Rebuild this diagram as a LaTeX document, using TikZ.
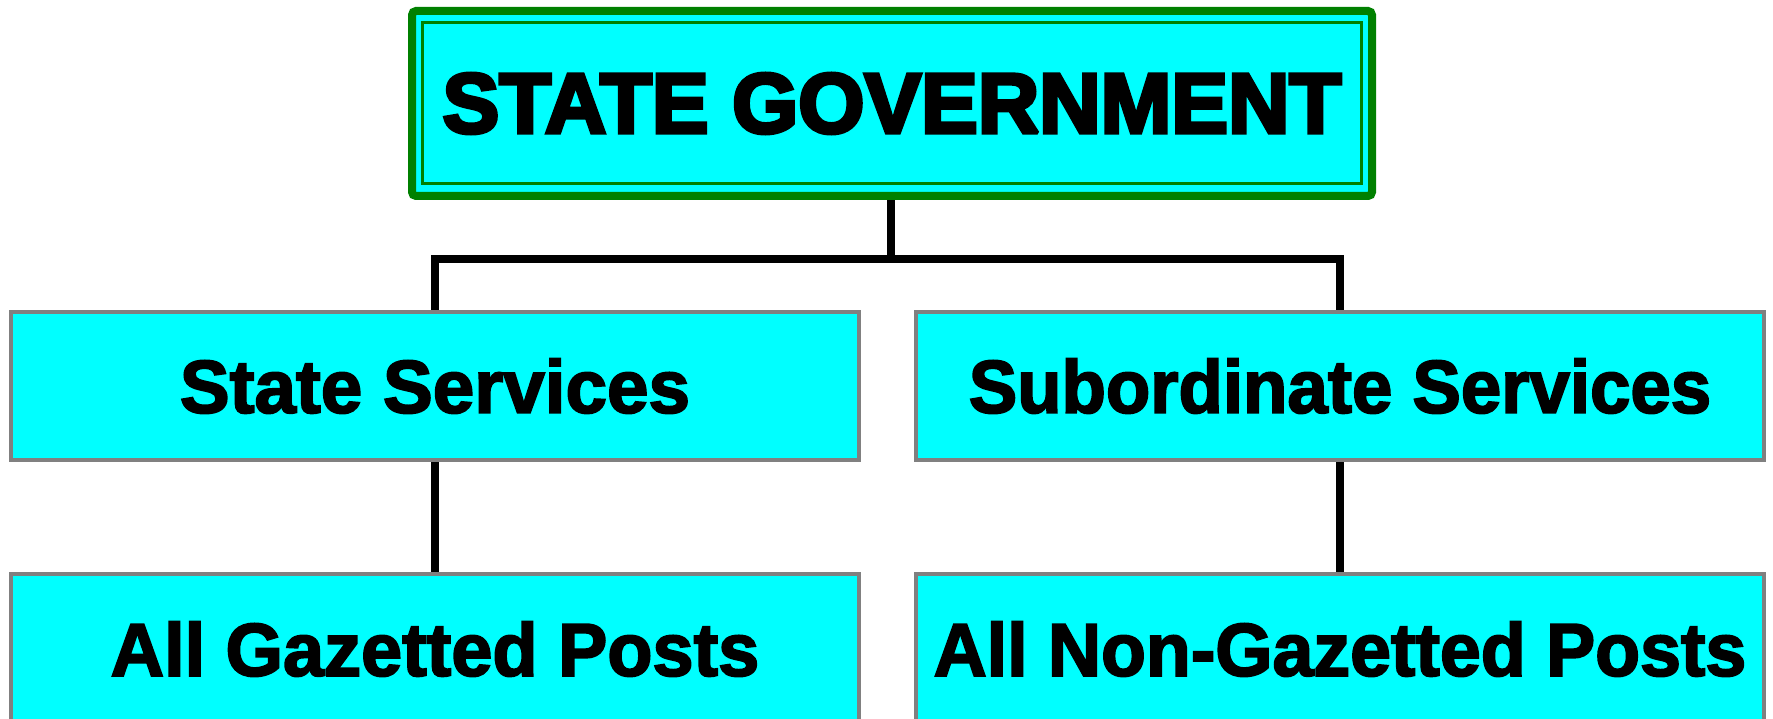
\documentclass[tikz,border=0pt]{standalone}
\usepackage{fontspec}
\usepackage{graphicx}
\setmainfont{Liberation Sans}
\newfontfamily\boxfont[FakeBold=2.5]{Liberation Sans Bold}
\newfontfamily\headfont[FakeBold=4.5]{Liberation Sans Bold}
\usetikzlibrary{backgrounds,calc}
\definecolor{boxcyan}{HTML}{00FFFF}
\definecolor{boxgreen}{HTML}{008000}
\definecolor{boxgray}{HTML}{808080}
\newcommand{\sx}[2]{\scalebox{#1}[1]{#2}}
\tikzset{
  post/.style={draw=boxgray, line width=3.5pt, line join=miter, miter limit=2, fill=boxcyan, outer sep=0pt, inner sep=0pt,
    minimum width=848pt, font=\boxfont\fontsize{75}{80}\selectfont, text=black},
  head/.style={draw=boxgreen, line width=8pt, line join=miter, miter limit=2, fill=boxcyan, rounded corners=4pt, outer sep=0pt, inner sep=0pt,
    minimum width=960pt, minimum height=185pt, font=\headfont\fontsize{85}{90}\selectfont, text=black},
  conn/.style={draw=black, line width=8pt},
  lowconn/.style={draw=black, line width=7.5pt},
}
\begin{document}
\begin{tikzpicture}[x=1pt,y=-1pt]
\useasboundingbox (0,0) rectangle (1773,719);
\clip (0,0) rectangle (1773,719);
\node[head] (top) at (892,103.5) {STATE GOVERNMENT};
\draw[boxgreen, line width=3pt] ($(top.north west)+(10.5,11.5)$) rectangle ($(top.south east)+(-10.5,-12.5)$);
\node[post, minimum height=148pt] (ss) at (435,386) {\sx{0.995}{State Services}};
\node[post, minimum height=148pt] (sub) at (1340,386) {\sx{0.968}{Subordinate Services}};
\node[post, minimum height=150pt] (gz) at (435,649) {\sx{0.985}{All Gazetted Posts}};
\node[post, minimum height=150pt] (ngz) at (1340,649) {\sx{0.98}{All Non-Gazetted Posts}};
\coordinate (bus) at (891,259.5);
\begin{scope}[on background layer]
\draw[conn] (top.south -| bus) -- (bus);
\draw[conn] (ss.north) -- (ss.north |- bus) -- (sub.north |- bus) -- (sub.north);
\draw[lowconn] (ss.south) -- (gz.north);
\draw[lowconn] (sub.south) -- (ngz.north);
\end{scope}
\end{tikzpicture}
\end{document}
